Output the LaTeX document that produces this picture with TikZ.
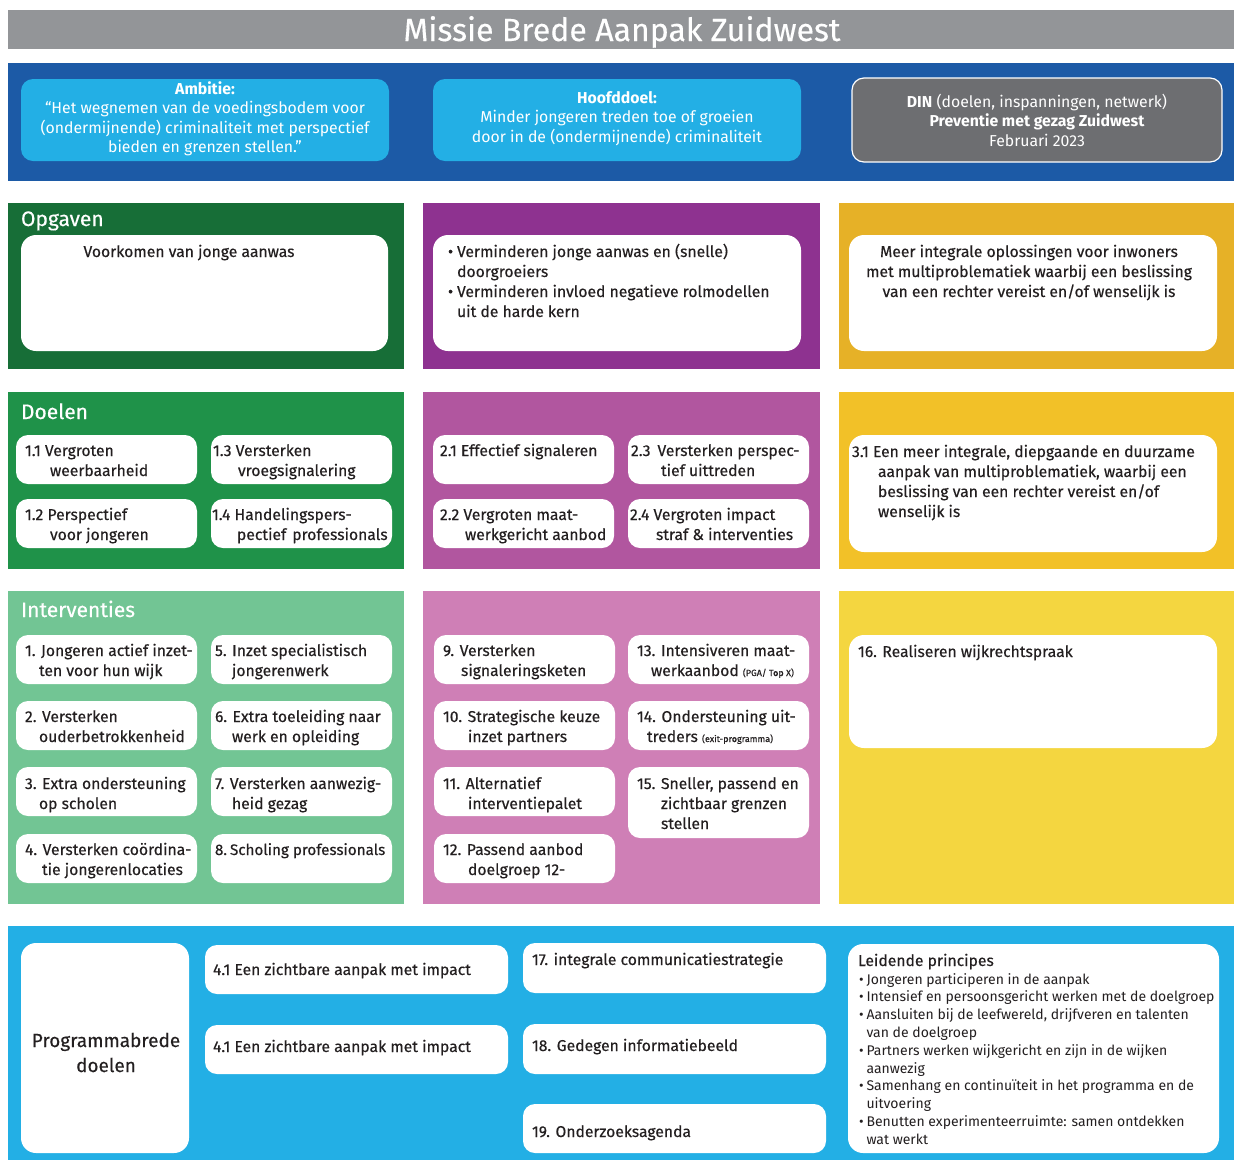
\documentclass[tikz,border=0pt]{standalone}
\usepackage{fontspec}
\setmainfont{Fira Sans}
\newfontfamily\medf[FakeBold=0.35]{Fira Sans}
\definecolor{tgray}{HTML}{939598}
\definecolor{navy}{HTML}{1C5AA6}
\definecolor{cyanb}{HTML}{23AFE5}
\definecolor{dgray}{HTML}{6D6E71}
\definecolor{ogreen}{HTML}{176E37}
\definecolor{opurple}{HTML}{8E3290}
\definecolor{oyellow}{HTML}{E6B127}
\definecolor{dgreen}{HTML}{1F9249}
\definecolor{dpurple}{HTML}{B1569F}
\definecolor{dyellow}{HTML}{F2C128}
\definecolor{igreen}{HTML}{72C594}
\definecolor{ipink}{HTML}{CF7FB6}
\definecolor{iyellow}{HTML}{F4D640}
\definecolor{ink}{HTML}{231F20}
\newcommand\ftxt{\medf\fontsize{15.7}{20}\selectfont}
\newcommand\fsml{\fontsize{14}{17.8}\selectfont}
\newcommand\fhead{\medf\fontsize{21}{24}\selectfont}
\newcommand\tinyf{\fontsize{9}{10}\selectfont}
\newcommand\tl[1]{\begin{tabular}[t]{@{}l@{}}#1\end{tabular}}
\newcommand\tc[1]{\begin{tabular}[t]{@{}c@{}}#1\end{tabular}}
\newcommand\tb[1]{\begin{tabular}[t]{@{}l@{\hspace{4pt}}l@{}}#1\end{tabular}}
\tikzset{
  bt/.style={anchor=base west, inner sep=0pt, outer sep=0pt, font=\ftxt, text=ink},
  ct/.style={anchor=base, inner sep=0pt, outer sep=0pt, font=\fontsize{15.8}{19.5}\selectfont, text=white},
  hd/.style={anchor=base west, inner sep=0pt, outer sep=0pt, font=\fhead, text=white},
  wb/.style={fill=white, rounded corners=12pt},
  wbl/.style={fill=white, rounded corners=15pt}
}
\begin{document}
\begin{tikzpicture}[x=1pt,y=-1pt]
\useasboundingbox (0,0) rectangle (1234,1160);
\fill[white] (0,0) rectangle (1234,1160);
% ---------- title
\fill[tgray] (8,10) rectangle (1234,49);
\node[anchor=base, inner sep=0pt, text=white, font=\medf\fontsize{32}{36}\selectfont] (title) at (622,41) {Missie Brede Aanpak Zuidwest};
% ---------- mission band
\fill[navy] (8,63) rectangle (1234,181);
\fill[cyanb, rounded corners=12pt] (21,79) rectangle (389,161);
\fill[cyanb, rounded corners=12pt] (433,79) rectangle (801,161);
\filldraw[fill=dgray, draw=white, line width=1.2pt, rounded corners=12pt] (852,78) rectangle (1222,162);
\node[ct] (amb) at (205,94) {\tc{\textbf{Ambitie:}\\“Het wegnemen van de voedingsbodem voor\\(ondermijnende) criminaliteit met perspectief\\bieden en grenzen stellen.”}};
\node[ct] (hfd) at (617,103) {\tc{\textbf{Hoofddoel:}\\Minder jongeren treden toe of groeien\\door in de (ondermijnende) criminaliteit}};
\node[ct] (din) at (1037,107) {\tc{\textbf{DIN} (doelen, inspanningen, netwerk)\\\textbf{Preventie met gezag Zuidwest}\\Februari 2023}};
% ---------- Opgaven
\fill[ogreen] (8,203) rectangle (404,369);
\node[hd] (hopg) at (21,226) {Opgaven};
\fill[wbl] (21,235) rectangle (388,351);
\node[bt, anchor=base] (opg1) at (189,257) {Voorkomen van jonge aanwas};
\fill[opurple] (423,203) rectangle (820,369);
\fill[wbl] (433,235) rectangle (801,351);
\node[bt] (opg2) at (448,257) {\tb{•&Verminderen jonge aanwas en (snelle)\\&doorgroeiers\\•&Verminderen invloed negatieve rolmodellen\\&uit de harde kern}};
\fill[oyellow] (839,203) rectangle (1234,369);
\fill[wbl] (849,235) rectangle (1217,351);
\node[bt, anchor=base] (opg3) at (1029,257) {\tc{Meer integrale oplossingen voor inwoners\\met multiproblematiek waarbij een beslissing\\van een rechter vereist en/of wenselijk is}};
% ---------- Doelen
\fill[dgreen] (8,392) rectangle (404,569);
\node[hd] (hdoel) at (21,419) {Doelen};
\fill[wb] (16,435) rectangle (197,484);
\fill[wb] (211,435) rectangle (392,484);
\fill[wb] (16,499) rectangle (197,548);
\fill[wb] (211,499) rectangle (392,548);
\node[bt] (d11) at (25,456) {\tl{1.1 Vergroten\\\hspace*{25pt}weerbaarheid}};
\node[bt] (d13) at (213,456) {\tl{1.3 Versterken\\\hspace*{25pt}vroegsignalering}};
\node[bt] (d12) at (25,520) {\tl{1.2 Perspectief\\\hspace*{25pt}voor jongeren}};
\node[bt] (d14) at (212,520) {\tl{1.4 Handelingspers-\\\hspace*{25pt}pectief\hspace{6pt}professionals}};
\fill[dpurple] (423,392) rectangle (820,569);
\fill[wb] (433,435) rectangle (614,484);
\fill[wb] (628,435) rectangle (809,484);
\fill[wb] (433,499) rectangle (614,548);
\fill[wb] (628,499) rectangle (809,548);
\node[bt] (d21) at (440,456) {2.1 Effectief signaleren};
\node[bt] (d23) at (631,456) {\tl{2.3\hspace{7pt}Versterken perspec-\\\hspace*{30pt}tief uittreden}};
\node[bt] (d22) at (440,520) {\tl{2.2 Vergroten maat-\\\hspace*{25pt}werkgericht aanbod}};
\node[bt] (d24) at (630,520) {\tl{2.4 Vergroten impact\\\hspace*{26pt}straf \& interventies}};
\fill[dyellow] (839,392) rectangle (1234,569);
\fill[wbl] (849,435) rectangle (1217,552);
\node[bt] (d31) at (852,457) {\tl{3.1 Een meer integrale, diepgaande en duurzame\\\hspace*{26pt}aanpak van multiproblematiek, waarbij een\\\hspace*{26pt}beslissing van een rechter vereist en/of\\\hspace*{26pt}wenselijk is}};
% ---------- Interventies
\fill[igreen] (8,591) rectangle (404,904);
\node[hd] (hint) at (21,617) {Interventies};
\foreach \y in {635,701,767,834} {
  \fill[wb] (16,\y) rectangle (197,\y+49);
  \fill[wb] (211,\y) rectangle (392,\y+49);
}
\node[bt] (i1) at (25,656) {\tl{1. Jongeren actief inzet-\\\hspace*{14pt}ten voor hun wijk}};
\node[bt] (i2) at (25,722) {\tl{2. Versterken\\\hspace*{14pt}ouderbetrokkenheid}};
\node[bt] (i3) at (25,789) {\tl{3. Extra ondersteuning\\\hspace*{14pt}op scholen}};
\node[bt] (i4) at (25,855) {\tl{4. Versterken coördina-\\\hspace*{17pt}tie jongerenlocaties}};
\node[bt] (i5) at (215,656) {\tl{5. Inzet specialistisch\\\hspace*{17pt}jongerenwerk}};
\node[bt] (i6) at (215,722) {\tl{6. Extra toeleiding naar\\\hspace*{17pt}werk en opleiding}};
\node[bt] (i7) at (215,789) {\tl{7. Versterken aanwezig-\\\hspace*{17pt}heid gezag}};
\node[bt, font=\medf\fontsize{15.2}{20}\selectfont] (i8) at (215,855) {8.\hspace{3pt}Scholing professionals};
\fill[ipink] (423,591) rectangle (820,904);
\foreach \y in {635,701,767,834} {
  \fill[wb] (434,\y) rectangle (615,\y+49);
}
\fill[wb] (628,635) rectangle (809,684);
\fill[wb] (628,701) rectangle (809,750);
\fill[wb] (628,767) rectangle (809,838);
\node[bt] (i9) at (443,656) {\tl{9. Versterken\\\hspace*{18pt}signaleringsketen}};
\node[bt] (i10) at (443,722) {\tl{10. Strategische keuze\\\hspace*{25pt}inzet partners}};
\node[bt] (i11) at (443,789) {\tl{11. Alternatief\\\hspace*{25pt}interventiepalet}};
\node[bt] (i12) at (443,855) {\tl{12. Passend aanbod\\\hspace*{25pt}doelgroep 12-}};
\node[bt] (i13) at (637,656) {\tl{13. Intensiveren maat-\\\hspace*{14pt}werkaanbod {\tinyf (PGA/ Top X)}}};
\node[bt] (i14) at (637,722) {\tl{14. Ondersteuning uit-\\\hspace*{10pt}treders {\tinyf (exit-programma)}}};
\node[bt] (i15) at (637,789) {\tl{15. Sneller, passend en\\\hspace*{24pt}zichtbaar grenzen\\\hspace*{24pt}stellen}};
\fill[iyellow] (839,591) rectangle (1234,904);
\fill[wbl] (849,635) rectangle (1217,748);
\node[bt] (i16) at (858,657) {16. Realiseren wijkrechtspraak};
% ---------- Programmabrede doelen
\fill[cyanb] (8,926) rectangle (1234,1160);
\fill[wbl] (21,943) rectangle (189,1153);
\node[bt, anchor=base, font=\medf\fontsize{19}{25}\selectfont] (prog) at (106,1047) {\tc{Programmabrede\\doelen}};
\fill[wb] (205,945) rectangle (508,994);
\fill[wb] (205,1025) rectangle (508,1074);
\node[bt] (p41a) at (213,975) {4.1 Een zichtbare aanpak met impact};
\node[bt] (p41b) at (213,1052) {4.1 Een zichtbare aanpak met impact};
\fill[wb] (523,943) rectangle (826,993);
\fill[wb] (523,1024) rectangle (826,1074);
\fill[wb] (523,1104) rectangle (826,1153);
\node[bt] (p17) at (532,965) {17. integrale communicatiestrategie};
\node[bt] (p18) at (532,1051) {18. Gedegen informatiebeeld};
\node[bt] (p19) at (532,1137) {19. Onderzoeksagenda};
\fill[wbl] (848,944) rectangle (1219,1153);
\node[bt] (lp) at (858,966) {Leidende principes};
\node[bt, font=\fsml] (lpl) at (859,984) {\begin{tabular}[t]{@{}l@{\hspace{3pt}}l@{}}
•&Jongeren participeren in de aanpak\\
•&Intensief en persoonsgericht werken met de doelgroep\\
•&Aansluiten bij de leefwereld, drijfveren en talenten\\
&van de doelgroep\\
•&Partners werken wijkgericht en zijn in de wijken\\
&aanwezig\\
•&Samenhang en continuïteit in het programma en de\\
&uitvoering\\
•&Benutten experimenteerruimte: samen ontdekken\\
&wat werkt\end{tabular}};
\end{tikzpicture}
\end{document}
